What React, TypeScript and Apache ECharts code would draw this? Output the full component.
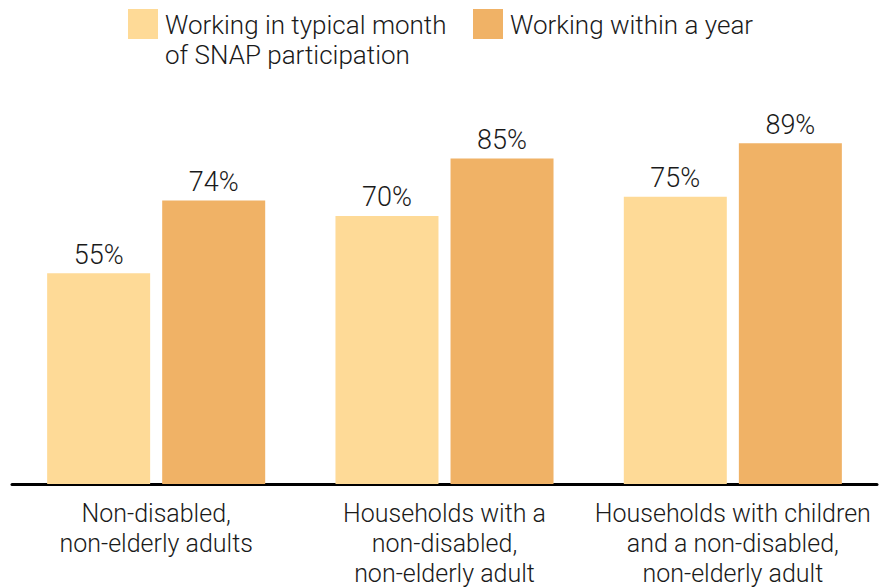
import React, { useEffect, useRef } from "react";
import * as echarts from "echarts";

const categories = [
  "Non-disabled,\nnon-elderly adults",
  "Households with a\nnon-disabled,\nnon-elderly adult",
  "Households with children\nand a non-disabled,\nnon-elderly adult",
];
const seriesNames = [
  "Working in typical month\nof SNAP participation",
  "Working within a year",
];
const typicalMonth = [55, 70, 75];
const withinYear = [74, 85, 89];
const colors = ["#FEDA97", "#F0B266"];

const FONT = "Roboto";

export default function App() {
  const ref = useRef<HTMLDivElement>(null);
  useEffect(() => {
    if (!ref.current) return;
    const chart = echarts.init(ref.current, null, { renderer: "svg" });
    const labelStyle = {
      show: true,
      position: "top" as const,
      distance: 5,
      formatter: "{c}%",
      color: "#1a1a1a",
      fontFamily: FONT,
      fontWeight: 300,
      fontSize: 27,
    };
    chart.setOption({
      animation: false,
      backgroundColor: "#ffffff",
      grid: { left: 12, right: 3, top: 101, bottom: 101, containLabel: false },
      xAxis: {
        type: "category",
        data: categories,
        axisLine: { show: true, lineStyle: { color: "#000000", width: 3 } },
        axisTick: { show: false },
        axisLabel: {
          interval: 0,
          margin: 14,
          color: "#1a1a1a",
          fontFamily: FONT,
          fontWeight: 300,
          fontSize: 25,
          lineHeight: 30,
        },
      },
      yAxis: { type: "value", min: 0, max: 100, show: false, splitLine: { show: false } },
      series: [
        {
          name: seriesNames[0],
          type: "bar",
          data: typicalMonth,
          barWidth: 103,
          barGap: "11.7%",
          itemStyle: { color: colors[0] },
          label: labelStyle,
        },
        {
          name: seriesNames[1],
          type: "bar",
          data: withinYear,
          barWidth: 103,
          barGap: "11.7%",
          itemStyle: { color: colors[1] },
          label: labelStyle,
        },
      ],
      graphic: [
        { type: "rect", shape: { x: 128, y: 9, width: 30, height: 30 }, style: { fill: colors[0] } },
        {
          type: "text",
          x: 165,
          y: 10,
          style: {
            text: seriesNames[0],
            fill: "#1a1a1a",
            font: `300 26px ${FONT}`,
            lineHeight: 30,
            verticalAlign: "top",
          },
        },
        { type: "rect", shape: { x: 473, y: 9, width: 30, height: 30 }, style: { fill: colors[1] } },
        {
          type: "text",
          x: 510,
          y: 10,
          style: {
            text: seriesNames[1],
            fill: "#1a1a1a",
            font: `300 26px ${FONT}`,
            lineHeight: 30,
            verticalAlign: "top",
          },
        },
      ],
    });
    return () => chart.dispose();
  }, []);
  return (
    <div
      ref={ref}
      style={{ position: "fixed", left: 0, top: 0, width: 880, height: 588 }}
    />
  );
}
